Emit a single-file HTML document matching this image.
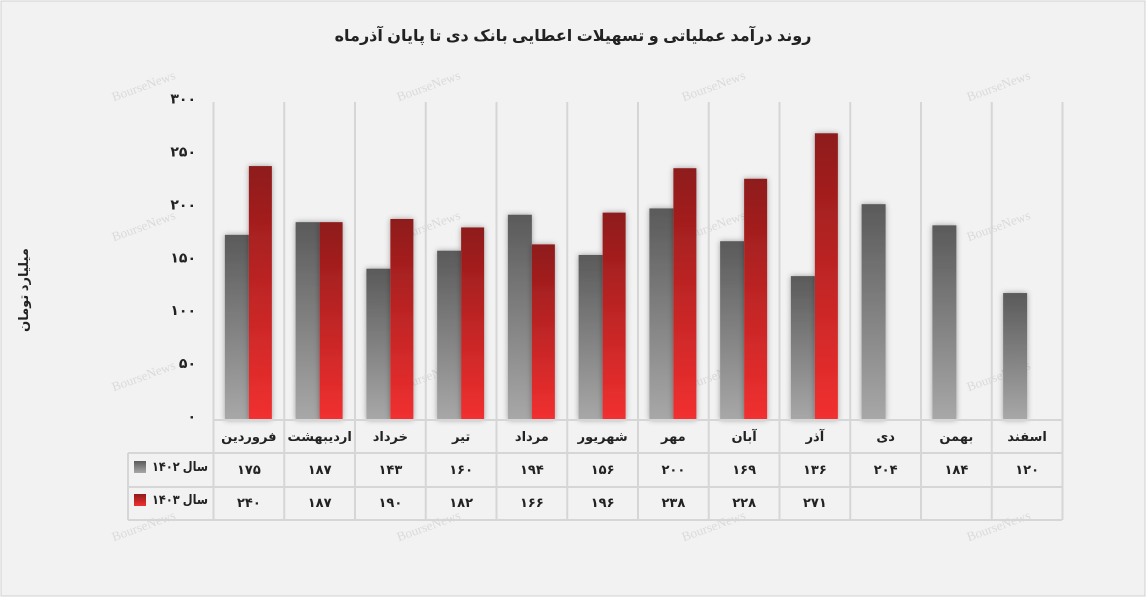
<!DOCTYPE html>
<html><head><meta charset="utf-8"><style>
body{margin:0;background:#fff}
svg{display:block;font-family:"Liberation Sans","DejaVu Sans",sans-serif}
</style></head><body>
<svg width="1146" height="597" viewBox="0 0 1146 597">
<defs>
<linearGradient id="g" x1="0" y1="0" x2="0" y2="1"><stop offset="0" stop-color="#5a5a5a"/><stop offset="1" stop-color="#a8a8a8"/></linearGradient>
<linearGradient id="r" x1="0" y1="0" x2="0" y2="1"><stop offset="0" stop-color="#8e1a1a"/><stop offset="1" stop-color="#f23030"/></linearGradient>
<filter id="sh" x="-50%" y="-10%" width="200%" height="120%"><feDropShadow dx="0" dy="0" stdDeviation="3" flood-color="#000" flood-opacity="0.35"/></filter>
</defs>
<rect x="1" y="1" width="1144" height="595" fill="#f2f2f2" stroke="#d0d0d0"/>
<text x="573" y="41" text-anchor="middle" font-size="16" font-weight="bold" fill="#222">روند درآمد عملیاتی و تسهیلات اعطایی بانک دی تا پایان آذرماه</text>
<g id="wm" fill="#dadada" font-family="Liberation Serif,serif" font-size="13"></g>
<text transform="translate(28,290) rotate(-90)" text-anchor="middle" font-size="13" font-weight="bold" fill="#222">میلیارد تومان</text>
<g id="plot"></g>
</svg>
<script>
const categories=["فروردین","اردیبهشت","خرداد","تیر","مرداد","شهریور","مهر","آبان","آذر","دی","بهمن","اسفند"];
const series1402=[175,187,143,160,194,156,200,169,136,204,184,120];
const series1403=[240,187,190,182,166,196,238,228,271,null,null,null];
const yTicks=[0,50,100,150,200,250,300];
const NS="http://www.w3.org/2000/svg";
const x0=213.5,cw=70.75,y0=420,k=1.058;
const xCol=i=>x0+i*cw;
const yv=v=>y0-v*k;
const fa=n=>String(n).replace(/\d/g,d=>"۰۱۲۳۴۵۶۷۸۹"[d]);
const plot=document.getElementById('plot');
function mk(t,a,p){const e=document.createElementNS(NS,t);for(const q in a)e.setAttribute(q,a[q]);(p||plot).appendChild(e);return e;}
const wm=document.getElementById('wm');
[[145,90],[430,90],[715,90],[1000,90],[145,230],[430,230],[715,230],[1000,230],[145,380],[430,380],[715,380],[1000,380],[145,530],[430,530],[715,530],[1000,530]].forEach(p=>{const t=mk('text',{x:p[0],y:p[1],transform:`rotate(-20 ${p[0]} ${p[1]})`,'text-anchor':'middle'},wm);t.textContent='BourseNews';});
for(let i=0;i<=12;i++){const l=mk('line',{x1:xCol(i),x2:xCol(i),y1:102,y2:520,stroke:'#d6d6d6','stroke-width':2});

}
yTicks.forEach(v=>{const t=mk('text',{x:196,y:yv(v)+1,'text-anchor':'end','font-size':14,'font-weight':'bold',fill:'#222'});t.textContent=fa(v);

});
categories.forEach((c,i)=>{
 const cx=xCol(i)+cw/2;
 const v1=series1402[i],v2=series1403[i];
 const b1=mk('rect',{x:cx-24,y:yv(v1),width:24,height:v1*k,fill:'url(#g)',filter:'url(#sh)'});
 
 
 if(v2!=null){const b2=mk('rect',{x:cx,y:yv(v2),width:23,height:v2*k,fill:'url(#r)',filter:'url(#sh)'});
 
 }
 const t=mk('text',{x:cx,y:441,'text-anchor':'middle','font-size':13,'font-weight':'bold',fill:'#222'});t.textContent=c;
 
 
 const a=mk('text',{x:cx,y:474,'text-anchor':'middle','font-size':13,'font-weight':'bold',fill:'#222'});a.textContent=fa(v1);
 
 
 if(v2!=null){const b=mk('text',{x:cx,y:507,'text-anchor':'middle','font-size':13,'font-weight':'bold',fill:'#222'});b.textContent=fa(v2);
 
 }
});
[[213.5,420,1062,420],[128,453,1062,453],[128,487,1062,487],[128,520,1062,520],[128,453,128,520]].forEach(p=>{const l=mk('line',{x1:p[0],y1:p[1],x2:p[2],y2:p[3],stroke:'#d6d6d6','stroke-width':2});

});
[['سال ۱۴۰۲','url(#g)',470],['سال ۱۴۰۳','url(#r)',503]].forEach((d,j)=>{
 const r=mk('rect',{x:134,y:d[2]-9,width:12,height:12,fill:d[1]});
 
 
 const t=mk('text',{x:208,y:d[2]+1,'text-anchor':'end','font-size':13,'font-weight':'bold',fill:'#222',textLength:56,lengthAdjust:'spacingAndGlyphs'});t.textContent=d[0];
 
 
});
</script>
</body></html>
